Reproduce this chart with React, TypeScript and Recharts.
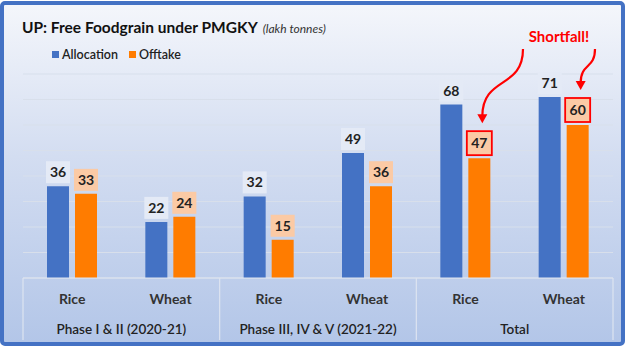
import { Bar, BarChart, CartesianGrid, LabelList, XAxis, YAxis } from "recharts";

const crops = ["Rice", "Wheat", "Rice", "Wheat", "Rice", "Wheat"];
const phases = [
  "Phase I & II (2020-21)",
  "Phase I & II (2020-21)",
  "Phase III, IV & V (2021-22)",
  "Phase III, IV & V (2021-22)",
  "Total",
  "Total",
];
const allocation = [36, 22, 32, 49, 68, 71];
const offtake = [33, 24, 15, 36, 47, 60];
const shortfall = [false, false, false, false, true, true];
const yTicks = [0, 10, 20, 30, 40, 50, 60, 70, 80];

const seriesNames = ["Allocation", "Offtake"];
const seriesColors = ["#4472c4", "#ff7c00"];

const data = crops.map((crop, i) => ({
  crop,
  phase: phases[i],
  allocation: allocation[i],
  offtake: offtake[i],
}));

const W = 632;
const H = 352;
const margin = { top: 74, right: 19, bottom: 12, left: 23 };
const CROP_AXIS_H = 36;
const PHASE_AXIS_H = 26;
const PLOT_W = W - margin.left - margin.right;
const PLOT_BOTTOM = H - margin.bottom - CROP_AXIS_H - PHASE_AXIS_H;
const BAND = PLOT_W / crops.length;
const FONT = "Lato, 'Open Sans', sans-serif";

const NOTE_X = 559;
const NOTE_Y = 37;

function CropTick(props: any) {
  const { x, payload } = props;
  return (
    <text x={x} y={PLOT_BOTTOM + 26} textAnchor="middle" fontFamily={FONT} fontSize={14} fontWeight={700} fill="#333">
      {payload.value}
    </text>
  );
}

function PhaseTick(props: any) {
  const { x, index } = props;
  const bottom = PLOT_BOTTOM + CROP_AXIS_H + PHASE_AXIS_H;
  if (index % 2 !== 0) {
    if (index === crops.length - 1) {
      return <line x1={x + BAND / 2} x2={x + BAND / 2} y1={PLOT_BOTTOM} y2={bottom} stroke="#dde4f0" strokeWidth={1.2} />;
    }
    return <g />;
  }
  return (
    <g>
      <line x1={x - BAND / 2} x2={x - BAND / 2} y1={PLOT_BOTTOM} y2={bottom} stroke="#dde4f0" strokeWidth={1.2} />
      <text x={x + BAND / 2} y={PLOT_BOTTOM + 56} textAnchor="middle" fontFamily={FONT} fontSize={13.5} fontWeight={600} fill="#222">
        {phases[index]}
      </text>
    </g>
  );
}

function makeLabel(fill: string, highlight: boolean[]) {
  return function ValueLabel(props: any) {
    const { x, y, width, value, index } = props;
    const cx = x + width / 2;
    const hot = highlight[index];
    const bw = hot ? 25 : 24;
    const bh = hot ? 24 : 22;
    const top = y - 3 - bh;
    let arrow = null;
    if (hot) {
      const tx = cx + 3;
      const ty = top - 15;
      const side = tx < NOTE_X ? -1 : 1;
      const sx = NOTE_X + side * 36;
      const sy = NOTE_Y + 12;
      const d = `M${sx},${sy} C${sx},${sy + 0.6 * (ty - sy)} ${tx},${sy + 0.4 * (ty - sy)} ${tx},${ty}`;
      arrow = (
        <g>
          <path d={d} fill="none" stroke="#ff0000" strokeWidth={2.2} />
          <path d={`M${tx - 5},${ty - 2} L${tx + 5},${ty - 2} L${tx},${ty + 7} Z`} fill="#ff0000" />
        </g>
      );
    }
    return (
      <g>
        <rect
          x={cx - bw / 2}
          y={top}
          width={bw}
          height={bh}
          fill={fill}
          stroke={hot ? "#ff0000" : "none"}
          strokeWidth={hot ? 1.8 : 0}
        />
        <text x={cx} y={top + bh / 2 + 5} textAnchor="middle" fontFamily={FONT} fontSize={14} fontWeight={700} fill="#222">
          {value}
        </text>
        {arrow}
      </g>
    );
  };
}

export default function App() {
  return (
    <div style={{ position: "absolute", left: 0, top: 0, width: W, height: H, background: "#fff" }}>
      <div
        style={{
          position: "absolute",
          left: 0,
          top: 1,
          width: 625,
          height: 345,
          boxSizing: "border-box",
          border: "4px solid #4472c4",
          borderRadius: 5,
          background: "linear-gradient(to bottom, #f4f6fb 0%, #d3ddf1 45%, #b3c6e8 100%)",
        }}
      />
      <div style={{ position: "absolute", left: 22, top: 17, fontFamily: FONT, color: "#111", whiteSpace: "nowrap" }}>
        <span style={{ fontSize: 15.5, fontWeight: 700 }}>UP: Free Foodgrain under PMGKY</span>
        <span style={{ fontSize: 12, fontStyle: "italic", color: "#333", marginLeft: 5 }}>(lakh tonnes)</span>
      </div>
      <div style={{ position: "absolute", left: 52, top: 47, fontFamily: FONT, fontSize: 12.5, fontWeight: 600, color: "#222", display: "flex", whiteSpace: "nowrap" }}>
        {seriesNames.map((n, i) => (
          <span key={n} style={{ display: "flex", alignItems: "center", marginRight: 11 }}>
            <span style={{ width: 7, height: 7, background: seriesColors[i], marginRight: 3 }} />
            {n}
          </span>
        ))}
      </div>
      <svg width={W} height={H} style={{ position: "absolute", left: 0, top: 0 }}>
        <text x={NOTE_X} y={NOTE_Y + 5} textAnchor="middle" fontFamily={FONT} fontSize={15} fontWeight={700} fill="#ff0000">
          Shortfall!
        </text>
      </svg>
      <div style={{ position: "absolute", left: 0, top: 0 }}>
        <BarChart width={W} height={H} data={data} margin={margin} barSize={22} barGap={6}>
          <CartesianGrid vertical={false} stroke="#d8dfeb" strokeWidth={1.2} />
          <YAxis hide domain={[0, 80]} ticks={yTicks} />
          <XAxis
            dataKey="crop"
            height={CROP_AXIS_H}
            interval={0}
            tickLine={false}
            axisLine={{ stroke: "#dde4f0", strokeWidth: 1.2 }}
            tick={<CropTick />}
          />
          <XAxis
            xAxisId="phase"
            dataKey="phase"
            height={PHASE_AXIS_H}
            interval={0}
            tickLine={false}
            axisLine={false}
            tick={<PhaseTick />}
          />
          <Bar dataKey="allocation" name={seriesNames[0]} fill={seriesColors[0]} isAnimationActive={false}>
            <LabelList dataKey="allocation" content={makeLabel("#e4eaf6", [])} />
          </Bar>
          <Bar dataKey="offtake" name={seriesNames[1]} fill={seriesColors[1]} isAnimationActive={false}>
            <LabelList dataKey="offtake" content={makeLabel("#fbcaa5", shortfall)} />
          </Bar>
        </BarChart>
      </div>
    </div>
  );
}
